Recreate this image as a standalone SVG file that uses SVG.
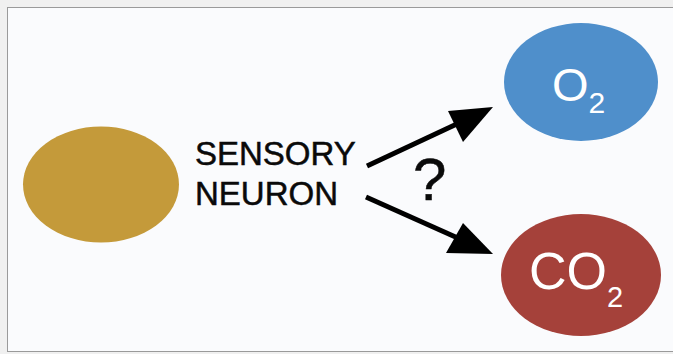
<svg xmlns="http://www.w3.org/2000/svg" width="673" height="354" viewBox="0 0 673 354">
  <defs>
    <style>
      .lbl { font-family: "Liberation Sans", Arial, sans-serif; fill: #0a0a0a; stroke: #0a0a0a; stroke-width: 0.5; }
      .gas { font-family: "Liberation Sans", Arial, sans-serif; fill: #fff; }
      .conn { stroke: #000; stroke-width: 5; fill: none; }
      .head { fill: #000; }
    </style>
  </defs>
  <rect x="0" y="0" width="673" height="354" fill="#f0f0f0"/>
  <rect x="7.5" y="7.5" width="670" height="344" fill="#fafbfd" stroke="#9a9a9a" stroke-width="1"/>

  <g id="neuron">
    <ellipse cx="101" cy="184.5" rx="78" ry="58" fill="#c49a3a"/>
    <text class="lbl" x="195" y="165" font-size="33">SENSORY</text>
    <text class="lbl" x="195" y="205" font-size="33">NEURON</text>
  </g>

  <g id="oxygen">
    <ellipse cx="581" cy="82" rx="77" ry="59" fill="#4f8fcb"/>
    <text class="gas" x="552" y="101" font-size="47">O<tspan font-size="30" dy="12">2</tspan></text>
  </g>

  <g id="carbon-dioxide">
    <ellipse cx="581" cy="275" rx="80" ry="61" fill="#a5413a"/>
    <text class="gas" x="529" y="289" font-size="52">CO<tspan font-size="29" dy="18">2</tspan></text>
  </g>

  <g id="connectors">
    <line class="conn" x1="367" y1="166" x2="460" y2="122.5"/>
    <polygon class="head" points="493,107 448,111 463,142"/>
    <line class="conn" x1="366" y1="197" x2="460" y2="239"/>
    <polygon class="head" points="493,254 446,253 463,223"/>
    <text class="lbl" x="413" y="200" font-size="60">?</text>
  </g>
</svg>
